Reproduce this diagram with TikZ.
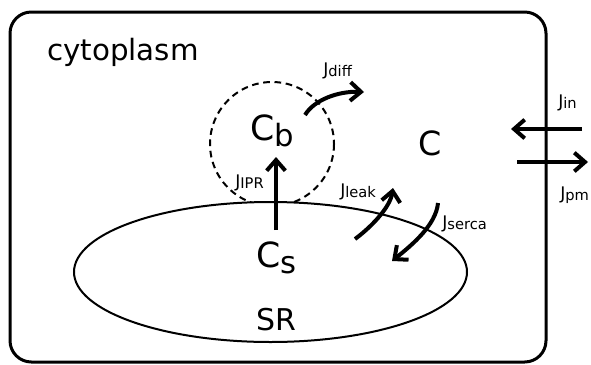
\documentclass[tikz,border=0pt]{standalone}
\usepackage{fontspec}
\setmainfont{DejaVu Sans}
\usepackage{tikz}
\usetikzlibrary{arrows.meta}

% flux label: J with a subscript
\newcommand{\jflux}[1]{{\fontsize{13}{15}\selectfont J}{\fontsize{11}{13}\selectfont\raisebox{-1pt}{#1}}}
% concentration: C with a subscript
\newcommand{\conc}[1]{{\fontsize{26}{30}\selectfont C}{\fontsize{23}{26}\selectfont\raisebox{-5pt}{#1}}}

\begin{document}
\begin{tikzpicture}[x=0.75pt, y=-0.75pt,
  lab/.style={anchor=base west, inner sep=0pt},
  flux/.style={line width=3pt, -{Straight Barb[length=8pt,width=14pt]}}]

\useasboundingbox (0,0) rectangle (591,364);

% --- CELL ---
\draw[line width=2.25pt, rounded corners=16pt] (10,12) rectangle (546,362);
\node[lab, font=\fontsize{22}{26}\selectfont] (cyto) at (47,60) {cytoplasm};

% --- BUFFER REGION ---
\draw[line width=1.5pt, dash pattern=on 5pt off 3.5pt] (272,144) circle (62);

% --- SR ---
\draw[line width=1.5pt, fill=white] (270.5,272) ellipse (196.5 and 70);
\node[lab, font=\fontsize{22.5}{26}\selectfont] (sr) at (256,330) {SR};

% --- CONCENTRATIONS ---
\node[lab] (cb) at (250,140) {\conc{b}};
\node[lab] (cs) at (256,267) {\conc{s}};
\node[lab, font=\fontsize{25}{28}\selectfont] (c) at (418,155) {C};

% --- FLUXES ---
\coordinate (ipr0) at (276,230);
\coordinate (ipr1) at (276,157);
\draw[flux] (ipr0) -- (ipr1);
\node[lab] (lipr) at (235,187.5) {\jflux{IPR}};

\coordinate (diff0) at (305,115);
\coordinate (diff1) at (364,92);
\draw[flux] (diff0) .. controls (314,100) and (338,91) .. (diff1);
\node[lab] (ldiff) at (323,75) {\jflux{diff}};

\coordinate (leak0) at (355,239);
\coordinate (leak1) at (393,188);
\draw[flux] (leak0) .. controls (370,228) and (390,208) .. (leak1);
\node[lab] (lleak) at (340,196) {\jflux{leak}};

\coordinate (serca0) at (438,203);
\coordinate (serca1) at (392,261);
\draw[flux] (serca0) .. controls (436,225) and (412,245) .. (serca1);
\node[lab] (lserca) at (442,228) {\jflux{serca}};

\coordinate (in0) at (582,129);
\coordinate (in1) at (511,129);
\draw[flux] (in0) -- (in1);
\node[lab] (lin) at (558,107) {\jflux{in}};

\coordinate (pm0) at (517,162);
\coordinate (pm1) at (588,162);
\draw[flux] (pm0) -- (pm1);
\node[lab] (lpm) at (560,199) {\jflux{pm}};

\end{tikzpicture}
\end{document}
